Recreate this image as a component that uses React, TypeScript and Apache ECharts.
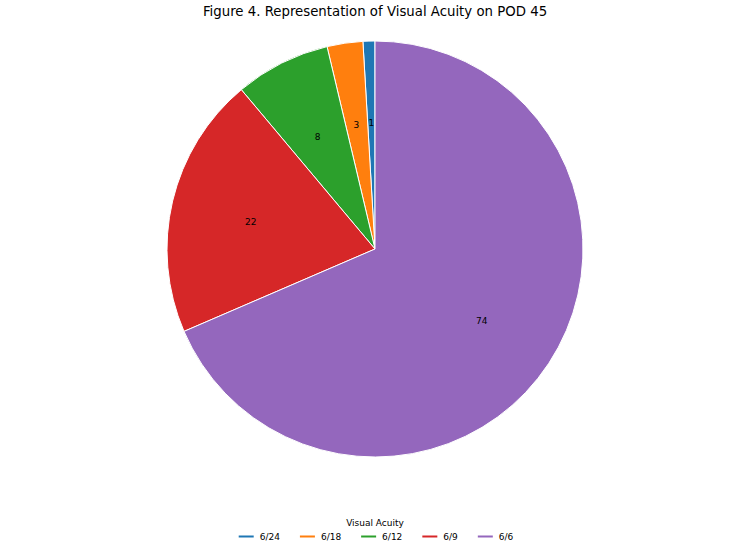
import React, { useEffect, useRef } from "react";
import * as echarts from "echarts";

const categories = ["6/24", "6/18", "6/12", "6/9", "6/6"];
const values = [1, 3, 8, 22, 74];
const colors = ["#1f77b4", "#ff7f0e", "#2ca02c", "#d62728", "#9467bd"];

export default function App() {
  const ref = useRef<HTMLDivElement>(null);
  useEffect(() => {
    document.body.style.margin = "0";
    const chart = echarts.init(ref.current!, null, { renderer: "svg" });
    const data = categories.map((c, i) => ({ name: c, value: values[i], itemStyle: { color: colors[i] } }));
    const R = 208;
    chart.setOption({
      animation: false,
      backgroundColor: "#ffffff",
      title: [
        {
          text: "Figure 4. Representation of Visual Acuity on POD 45",
          left: "center",
          top: 0,
          textStyle: { fontFamily: "DejaVu Sans", fontSize: 13.3, fontWeight: "normal", color: "#000" },
        },
        {
          text: "Visual Acuity",
          left: "center",
          top: 513,
          textStyle: { fontFamily: "DejaVu Sans", fontSize: 9, fontWeight: "normal", color: "#000" },
        },
      ],
      legend: {
        data: categories,
        bottom: 3,
        left: "center",
        icon: "rect",
        itemWidth: 17,
        itemHeight: 4,
        itemGap: 18,
        textStyle: { fontFamily: "DejaVu Sans", fontSize: 9, color: "#000" },
      },
      series: [
        {
          type: "pie",
          center: [375, 249],
          radius: [0, R],
          startAngle: 90,
          clockwise: false,
          data,
          label: { show: false },
          labelLine: { show: false },
          itemStyle: { borderColor: "#ffffff", borderWidth: 1 },
          emphasis: { disabled: true },
        },
        {
          type: "pie",
          center: [375, 251],
          radius: [R * 0.2, R],
          startAngle: 90,
          clockwise: false,
          silent: true,
          legendHoverLink: false,
          data: categories.map((c, i) => ({ name: c + " ", value: values[i], itemStyle: { color: "transparent" } })),
          label: {
            show: true,
            position: "inside",
            formatter: (p: any) => String(p.value),
            fontFamily: "DejaVu Sans",
            fontSize: 9,
            color: "#000",
          },
          labelLine: { show: false },
          emphasis: { disabled: true },
        },
      ],
    });
    return () => chart.dispose();
  }, []);
  return <div ref={ref} style={{ width: 750, height: 549 }} />;
}
